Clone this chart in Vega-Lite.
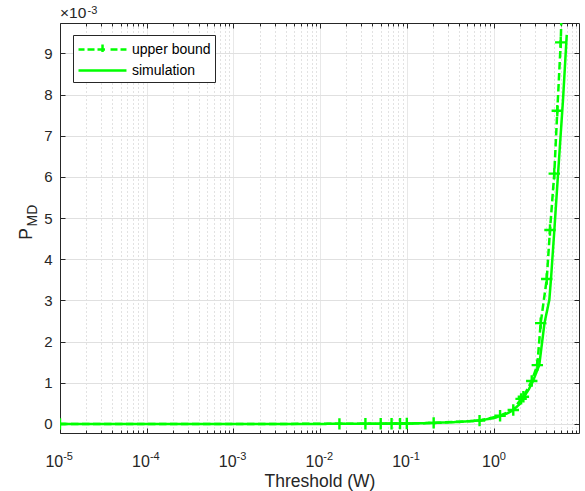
{
  "$schema": "https://vega.github.io/schema/vega-lite/v6.json",
  "width": 519,
  "height": 410,
  "autosize": {"type": "none"},
  "padding": {"left": 60, "top": 23, "right": 6, "bottom": 58},
  "config": {
    "view": {"stroke": null},
    "font": "Liberation Sans",
    "axis": {
      "domainColor": "#262626",
      "tickColor": "#262626",
      "labelColor": "#262626",
      "titleColor": "#262626",
      "labelFontSize": 15,
      "titleFontWeight": "normal",
      "labelFont": "Liberation Sans",
      "titleFont": "Liberation Sans"
    }
  },
  "title": {
    "text": "×10",
    "anchor": "start",
    "frame": "group",
    "fontSize": 15.5,
    "fontWeight": "normal",
    "offset": 3,
    "dy": 20,
    "color": "#262626"
  },
  "datasets": {
    "lines": [
      {"x": 0.00001, "y": 0, "series": "upper bound"},
      {"x": 0.0167, "y": 0.002, "series": "upper bound"},
      {"x": 0.0333, "y": 0.003, "series": "upper bound"},
      {"x": 0.05, "y": 0.005, "series": "upper bound"},
      {"x": 0.0667, "y": 0.006, "series": "upper bound"},
      {"x": 0.0835, "y": 0.008, "series": "upper bound"},
      {"x": 0.1, "y": 0.01, "series": "upper bound"},
      {"x": 0.204, "y": 0.025, "series": "upper bound"},
      {"x": 0.69, "y": 0.08, "series": "upper bound"},
      {"x": 1.19, "y": 0.2, "series": "upper bound"},
      {"x": 1.69, "y": 0.34, "series": "upper bound"},
      {"x": 2.08, "y": 0.61, "series": "upper bound"},
      {"x": 2.21, "y": 0.66, "series": "upper bound"},
      {"x": 2.76, "y": 1.045, "series": "upper bound"},
      {"x": 3.2, "y": 1.43, "series": "upper bound"},
      {"x": 3.5, "y": 2.45, "series": "upper bound"},
      {"x": 4.11, "y": 3.52, "series": "upper bound"},
      {"x": 4.48, "y": 4.71, "series": "upper bound"},
      {"x": 5.02, "y": 6.08, "series": "upper bound"},
      {"x": 5.44, "y": 7.61, "series": "upper bound"},
      {"x": 5.96, "y": 9.27, "series": "upper bound"},
      {"x": 6.3, "y": 11.2, "series": "upper bound"},
      {"x": 0.00001, "y": 0, "series": "simulation"},
      {"x": 0.01, "y": 0.001, "series": "simulation"},
      {"x": 0.1, "y": 0.01, "series": "simulation"},
      {"x": 0.2, "y": 0.024, "series": "simulation"},
      {"x": 0.4, "y": 0.048, "series": "simulation"},
      {"x": 0.68, "y": 0.085, "series": "simulation"},
      {"x": 1.0, "y": 0.14, "series": "simulation"},
      {"x": 1.19, "y": 0.19, "series": "simulation"},
      {"x": 1.45, "y": 0.26, "series": "simulation"},
      {"x": 1.69, "y": 0.34, "series": "simulation"},
      {"x": 2.0, "y": 0.48, "series": "simulation"},
      {"x": 2.25, "y": 0.66, "series": "simulation"},
      {"x": 2.55, "y": 0.84, "series": "simulation"},
      {"x": 2.85, "y": 1.04, "series": "simulation"},
      {"x": 3.37, "y": 1.43, "series": "simulation"},
      {"x": 3.87, "y": 2.45, "series": "simulation"},
      {"x": 4.4, "y": 3.01, "series": "simulation"},
      {"x": 4.6, "y": 3.52, "series": "simulation"},
      {"x": 5.03, "y": 4.71, "series": "simulation"},
      {"x": 5.69, "y": 6.42, "series": "simulation"},
      {"x": 6.33, "y": 7.87, "series": "simulation"},
      {"x": 6.99, "y": 9.45, "series": "simulation"}
    ],
    "markers": [
      {"x": 0.00001, "y": 0},
      {"x": 0.0167, "y": 0.002},
      {"x": 0.0333, "y": 0.003},
      {"x": 0.05, "y": 0.005},
      {"x": 0.0667, "y": 0.006},
      {"x": 0.0835, "y": 0.008},
      {"x": 0.1, "y": 0.01},
      {"x": 0.204, "y": 0.025},
      {"x": 0.69, "y": 0.08},
      {"x": 1.19, "y": 0.2},
      {"x": 1.69, "y": 0.34},
      {"x": 2.08, "y": 0.61},
      {"x": 2.21, "y": 0.66},
      {"x": 2.76, "y": 1.045},
      {"x": 3.2, "y": 1.43},
      {"x": 3.5, "y": 2.45},
      {"x": 4.11, "y": 3.52},
      {"x": 4.48, "y": 4.71},
      {"x": 5.02, "y": 6.08},
      {"x": 5.44, "y": 7.61},
      {"x": 5.96, "y": 9.27}
    ]
  },
  "layer": [
    {
      "data": {"name": "lines"},
      "mark": {"type": "line", "clip": true, "strokeWidth": 2.5},
      "encoding": {
        "x": {
          "field": "x",
          "type": "quantitative",
          "scale": {"type": "log", "domain": [0.00001, 9.68], "nice": false},
          "axis": {
            "orient": "bottom",
            "title": "Threshold (W)",
            "titleFontSize": 17.5,
            "titlePadding": 1,
            "values": [0.00001,0.00002,0.00003,0.00004,0.00005,0.00006,0.00007,0.00008,0.00009,0.0001,0.0002,0.0003,0.0004,0.0005,0.0006,0.0007,0.0008,0.0009,0.001,0.002,0.003,0.004,0.005,0.006,0.007,0.008,0.009,0.01,0.02,0.03,0.04,0.05,0.06,0.07,0.08,0.09,0.1,0.2,0.3,0.4,0.5,0.6,0.7,0.8,0.9,1,2,3,4,5,6,7,8,9],
            "labelExpr": "abs(log(datum.value)/LN10 - round(log(datum.value)/LN10)) < 0.001 ? '10' : ''",
            "labelFontSize": 16,
            "labelAlign": "right",
            "labelOffset": {"condition": {"test": "datum.value == 1", "value": 5.8}, "value": 2.7},
            "labelPadding": 25,
            "labelFlush": false,
            "labelOverlap": false,
            "labelBound": false,
            "tickSize": {"condition": {"test": "abs(log(datum.value)/LN10 - round(log(datum.value)/LN10)) < 0.001", "value": -5}, "value": -3},
            "grid": true,
            "gridColor": {"condition": {"test": "abs(log(datum.value)/LN10 - round(log(datum.value)/LN10)) < 0.001", "value": "#e0e0e0"}, "value": "#c4c4c4"},
            "gridDash": {"condition": {"test": "abs(log(datum.value)/LN10 - round(log(datum.value)/LN10)) < 0.001", "value": [1, 0]}, "value": [1, 3]}
          }
        },
        "y": {
          "field": "y",
          "type": "quantitative",
          "scale": {"domain": [-0.22, 9.74], "nice": false, "zero": false},
          "axis": {
            "orient": "left",
            "values": [0,1,2,3,4,5,6,7,8,9],
            "tickSize": -5,
            "labelPadding": 13,
            "grid": true,
            "gridColor": "#e0e0e0",
            "title": "P",
            "titleFontSize": 17.5,
            "titleAngle": 270,
            "titleX": -34,
            "titleY": 210.5,
            "titleAlign": "center",
            "titleBaseline": "middle"
          }
        },
        "color": {
          "field": "series",
          "type": "nominal",
          "scale": {"domain": ["upper bound", "simulation"], "range": ["#00ff00", "#00ff00"]},
          "legend": {
            "orient": "none",
            "legendX": 13,
            "legendY": 12,
            "title": null,
            "strokeColor": "#262626",
            "fillColor": "white",
            "padding": 4,
            "cornerRadius": 0,
            "labelFontSize": 14,
            "labelColor": "#000000",
            "symbolSize": 324,
            "labelOffset": 34,
            "rowPadding": 0,
            "encode": {
              "symbols": {
                "update": {
                  "shape": {"signal": "datum.value === 'upper bound' ? 'M-1,0H-0.33M0,0H0.78M1.11,0H2.22M1.67,-0.55V0.55M2.56,0H3.33M3.67,0H4.33' : 'M-1,0H4.33'"},
                  "strokeDash": {"value": [1, 0]},
                  "strokeWidth": {"value": 2.5},
                  "fill": {"value": "transparent"},
                  "stroke": {"value": "#00ff00"}
                }
              }
            }
          }
        },
        "strokeDash": {
          "field": "series",
          "type": "nominal",
          "scale": {"domain": ["upper bound", "simulation"], "range": [[7.5, 3.5], [1, 0]]},
          "legend": null
        }
      }
    },
    {
      "data": {"name": "markers"},
      "mark": {"type": "point", "shape": "M-1,0H1M0,-1V1", "size": 130, "strokeWidth": 2.4, "filled": false, "color": "#00ff00", "opacity": 1, "clip": true},
      "encoding": {
        "x": {
          "field": "x",
          "type": "quantitative",
          "scale": {"type": "log", "domain": [0.00001, 9.68], "nice": false},
          "axis": {
            "orient": "top",
            "title": "-3",
            "titleFontSize": 11,
            "titleAlign": "left",
            "titleBaseline": "alphabetic",
            "titleX": 27,
            "titleY": -10,
            "labels": true,
            "labelExpr": "datum.value == 0.00001 ? '-5' : datum.value == 0.0001 ? '-4' : datum.value == 0.001 ? '-3' : datum.value == 0.01 ? '-2' : datum.value == 0.1 ? '-1' : datum.value == 1 ? '0' : ''",
            "labelFontSize": 11,
            "labelAlign": "left",
            "labelBaseline": "alphabetic",
            "labelOffset": {"condition": {"test": "datum.value == 1", "value": 5.8}, "value": 2.7},
            "labelPadding": -431,
            "labelFlush": false,
            "labelOverlap": false,
            "labelBound": false,
            "grid": false,
            "values": [0.00001,0.00002,0.00003,0.00004,0.00005,0.00006,0.00007,0.00008,0.00009,0.0001,0.0002,0.0003,0.0004,0.0005,0.0006,0.0007,0.0008,0.0009,0.001,0.002,0.003,0.004,0.005,0.006,0.007,0.008,0.009,0.01,0.02,0.03,0.04,0.05,0.06,0.07,0.08,0.09,0.1,0.2,0.3,0.4,0.5,0.6,0.7,0.8,0.9,1,2,3,4,5,6,7,8,9],
            "tickSize": {"condition": {"test": "abs(log(datum.value)/LN10 - round(log(datum.value)/LN10)) < 0.001", "value": -5}, "value": -3}
          }
        },
        "y": {
          "field": "y",
          "type": "quantitative",
          "scale": {"domain": [-0.22, 9.74], "nice": false, "zero": false},
          "axis": {
            "orient": "right",
            "values": [0,1,2,3,4,5,6,7,8,9],
            "labels": false,
            "grid": false,
            "tickSize": -5,
            "title": "MD",
            "titleFontSize": 14,
            "titleAngle": 270,
            "titleX": -547,
            "titleY": 192,
            "titleAlign": "center",
            "titleBaseline": "middle"
          }
        }
      }
    }
  ],
  "resolve": {"axis": {"x": "independent", "y": "independent"}}
}
